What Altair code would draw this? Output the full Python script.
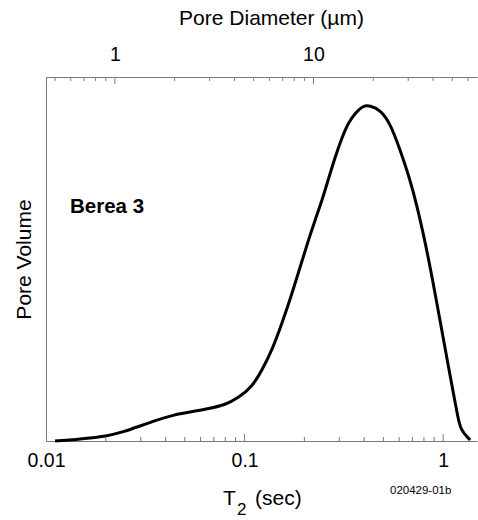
import altair as alt
import pandas as pd

# ---- data ----
t2_sec = [0.0111, 0.01368, 0.01666, 0.02029, 0.02443, 0.02975, 0.03624, 0.04363,
          0.05313, 0.06472, 0.07976, 0.09274, 0.10909, 0.12247, 0.13757, 0.15453,
          0.17357, 0.19045, 0.20889, 0.2265, 0.24572, 0.26338, 0.28576, 0.30999,
          0.33216, 0.36032, 0.39534, 0.42872, 0.48151, 0.54075, 0.60728, 0.68199,
          0.73973, 0.7931, 0.86, 0.93278, 0.98846, 1.04749, 1.11, 1.17627,
          1.21792, 1.368]
pore_volume = [0.0, 0.003, 0.0089, 0.0149, 0.0268, 0.0447, 0.0626, 0.0775,
               0.0864, 0.0954, 0.1073, 0.1282, 0.161, 0.2116, 0.2712, 0.3517,
               0.4411, 0.5186, 0.5961, 0.6587, 0.7183, 0.7779, 0.8465, 0.9061,
               0.9478, 0.9776, 1.0, 1.0, 0.9866, 0.9478, 0.8674, 0.7779,
               0.6975, 0.62, 0.5186, 0.4054, 0.3249, 0.2414, 0.161, 0.0835,
               0.0328, 0.003]

t2_domain = [0.01, 1.48]
volume_domain = [0.0, 1.085]
t2_to_diameter = 45.0          # pore diameter (um) per second of T2

bottom_labels = [0.01, 0.1, 1]
bottom_major_ticks = [0.1, 1]
bottom_minor_ticks = [0.02, 0.03, 0.04, 0.05, 0.06, 0.07, 0.08, 0.09,
                      0.2, 0.3, 0.4, 0.5, 0.6, 0.7, 0.8, 0.9]
top_labels = [1, 10]
top_major_ticks = [1, 10]
top_minor_ticks = [0.5, 0.6, 0.7, 0.8, 0.9, 2, 3, 4, 5, 6, 7, 8, 9,
                   20, 30, 40, 50, 60]

x_title_main = "T"
x_title_sub = "2"
x_title_rest = "(sec)"
y_title = "Pore Volume"
top_title = "Pore Diameter (µm)"
sample_label = "Berea 3"
figure_id = "020429-01b"

# ---- layout ----
W, H = 431, 364
FONT = "Liberation Sans"
FRAME = "#7a7a7a"

curve = pd.DataFrame({"t2": t2_sec, "pv": pore_volume})

x_axis = alt.Axis(orient="bottom", values=bottom_labels, format="~g", tickSize=0,
                  labelFontSize=19.5, labelPadding=10, labelFlush=False,
                  labelColor="black", grid=False, domainColor=FRAME, title=None)
x_scale = alt.Scale(type="log", domain=t2_domain, nice=False)
x_enc = alt.X("t2:Q", scale=x_scale, axis=x_axis)

line = alt.Chart(curve).mark_line(color="black", strokeWidth=3,
                                  interpolate="basis").encode(
    x=x_enc,
    y=alt.Y("pv:Q", scale=alt.Scale(domain=volume_domain, nice=False),
            axis=alt.Axis(labels=False, ticks=False, grid=False, domainColor=FRAME,
                          title=y_title, titleFontSize=21, titleFontWeight="normal",
                          titleColor="black", titlePadding=12)),
)

b_minor = alt.Chart(pd.DataFrame({"t2": bottom_minor_ticks})).mark_rule(
    color=FRAME, strokeWidth=1).encode(x=x_enc, y=alt.value(H), y2=alt.value(H - 4))
b_major = alt.Chart(pd.DataFrame({"t2": bottom_major_ticks})).mark_rule(
    color=FRAME, strokeWidth=1).encode(x=x_enc, y=alt.value(H), y2=alt.value(H - 7))

bottom_group = alt.layer(line, b_minor, b_major)

top_axis = alt.Axis(orient="top", values=top_labels, format="~g", tickSize=0,
                    labelFontSize=19.5, labelPadding=13, labelFlush=False,
                    labelColor="black", grid=False, domainColor=FRAME, title=None)
top_scale = alt.Scale(type="log", nice=False,
                      domain=[t2_domain[0] * t2_to_diameter, t2_domain[1] * t2_to_diameter])
top_enc = alt.X("d:Q", scale=top_scale, axis=top_axis)

t_minor = alt.Chart(pd.DataFrame({"d": top_minor_ticks})).mark_rule(
    color=FRAME, strokeWidth=1).encode(x=top_enc, y=alt.value(0), y2=alt.value(4))
t_major = alt.Chart(pd.DataFrame({"d": top_major_ticks})).mark_rule(
    color=FRAME, strokeWidth=1).encode(x=top_enc, y=alt.value(0), y2=alt.value(7))
top_group = alt.layer(t_minor, t_major)


def label(txt, x, y, size, weight="normal", align="left"):
    return alt.Chart(pd.DataFrame({"txt": [txt]})).mark_text(
        align=align, baseline="alphabetic", fontSize=size, fontWeight=weight,
        font=FONT, color="black").encode(text="txt:N", x=alt.value(x), y=alt.value(y))


texts = [
    label(top_title, 225.5, -52, 21, align="center"),
    label(x_title_main, 177, 428, 21),
    label(x_title_sub, 191, 438, 17),
    label(x_title_rest, 209, 428, 21),
    label(sample_label, 24, 136, 20.5, weight="bold"),
    label(figure_id, 344, 417, 11.5),
]

chart = alt.layer(bottom_group, top_group, *texts).resolve_scale(
    x="independent"
).properties(
    width=W, height=H,
    autosize=alt.AutoSizeParams(type="none"),
    padding={"left": 46, "top": 77, "right": 1, "bottom": 79},
).configure(font=FONT, background="white").configure_view(stroke=None)

chart.save("out.html", embed_options={"renderer": "svg", "actions": False})
